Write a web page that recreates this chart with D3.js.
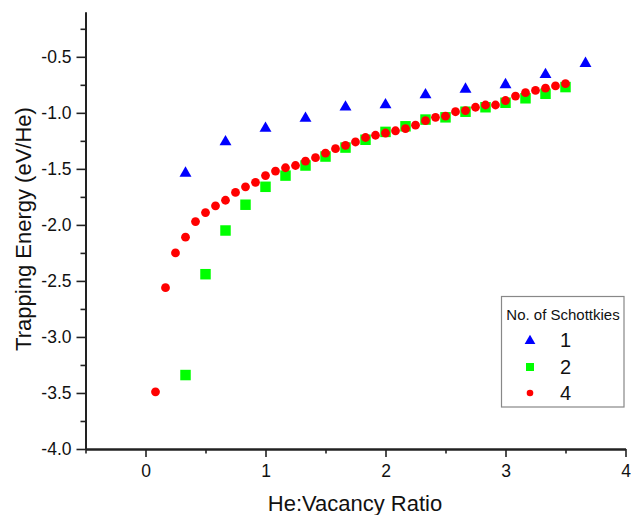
<!DOCTYPE html>
<html>
<head>
<meta charset="utf-8">
<script src="https://cdn.jsdelivr.net/npm/d3@7"></script>
<style>
  html, body { margin: 0; padding: 0; background: #fff; }
  svg { display: block; font-family: "Liberation Sans", Arial, sans-serif; }
</style>
</head>
<body>
<svg id="chart" width="631" height="515"></svg>
<script>
// ---- Data ----
const xTicksMajor = [0, 1, 2, 3, 4];
const xTicksMinor = [-0.5, 0.5, 1.5, 2.5, 3.5];
const yTicksMajor = [-4.0, -3.5, -3.0, -2.5, -2.0, -1.5, -1.0, -0.5];
const yTicksMinor = [-3.75, -3.25, -2.75, -2.25, -1.75, -1.25, -0.75, -0.25];

const series1X = [1/3, 2/3, 1, 4/3, 5/3, 2, 7/3, 8/3, 3, 10/3, 11/3];
const series1Y = [-1.53, -1.25, -1.13, -1.04, -0.94, -0.92, -0.83, -0.78, -0.74, -0.65, -0.55];

const series2X = [2/6, 3/6, 4/6, 5/6, 1, 7/6, 8/6, 9/6, 10/6, 11/6, 2, 13/6, 14/6, 15/6, 16/6, 17/6, 3, 19/6, 20/6, 21/6];
const series2Y = [-3.34, -2.44, -2.05, -1.82, -1.66, -1.56, -1.47, -1.39, -1.31, -1.24, -1.17, -1.12, -1.06, -1.04, -0.99, -0.95, -0.91, -0.87, -0.83, -0.77];

const series4X = d3.range(1, 43).map(i => i / 12);
const series4Y = [-3.49, -2.56, -2.25, -2.11, -1.97, -1.89, -1.83, -1.78, -1.71, -1.66,
                  -1.62, -1.56, -1.52, -1.49, -1.47, -1.43, -1.40, -1.36, -1.32, -1.29,
                  -1.26, -1.22, -1.20, -1.18, -1.16, -1.14, -1.11, -1.07, -1.04, -1.03,
                  -0.99, -0.98, -0.95, -0.93, -0.93, -0.89, -0.85, -0.82, -0.80, -0.78,
                  -0.76, -0.74];

const legendTitle = "No. of Schottkies";
const seriesNames = ["1", "2", "4"];
const xTitle = "He:Vacancy Ratio";
const yTitle = "Trapping Energy (eV/He)";

// ---- Layout ----
const svg = d3.select("#chart");
const plotL = 85.5, plotR = 625.5, plotT = 12, plotB = 449;
const x = d3.scaleLinear().domain([-0.5, 4]).range([plotL, plotR]);
const y = d3.scaleLinear().domain([-4, -0.1]).range([plotB, plotT]);
const axisColor = "#222";

// X axis
const gx = svg.append("g").attr("transform", `translate(0,${plotB})`);
gx.call(d3.axisBottom(x).tickValues(xTicksMajor).tickFormat(d3.format("d")).tickSize(8).tickSizeOuter(0));
const gxm = svg.append("g").attr("transform", `translate(0,${plotB})`);
gxm.call(d3.axisBottom(x).tickValues(xTicksMinor).tickFormat("").tickSize(4.5).tickSizeOuter(0));
[gx, gxm].forEach(g => {
  g.select(".domain").attr("stroke", axisColor).attr("stroke-width", 2);
  g.selectAll(".tick line").attr("stroke", axisColor).attr("stroke-width", 1.6);
});
gx.selectAll(".tick text").attr("font-size", 17.5).attr("fill", "#111").attr("dy", null).attr("y", 28);

// Y axis
const gy = svg.append("g").attr("transform", `translate(${plotL},0)`);
gy.call(d3.axisLeft(y).tickValues(yTicksMajor).tickFormat(d3.format(".1f")).tickSize(9).tickSizeOuter(0));
const gym = svg.append("g").attr("transform", `translate(${plotL},0)`);
gym.call(d3.axisLeft(y).tickValues(yTicksMinor).tickFormat("").tickSize(5).tickSizeOuter(0));
[gy, gym].forEach(g => {
  g.select(".domain").attr("stroke", axisColor).attr("stroke-width", 2);
  g.selectAll(".tick line").attr("stroke", axisColor).attr("stroke-width", 1.6);
});
gy.selectAll(".tick text").attr("font-size", 17.5).attr("fill", "#111").attr("x", -14)
  .text(d => d3.format(".1f")(d).replace("−", "-"));

// Titles
svg.append("text").attr("x", 355).attr("y", 511).attr("text-anchor", "middle")
  .attr("font-size", 22).attr("fill", "#111").text(xTitle);
svg.append("text").attr("transform", `translate(31,229) rotate(-90)`).attr("text-anchor", "middle")
  .attr("font-size", 22).attr("fill", "#111").text(yTitle);

// ---- Marks ----
const triSym = d3.symbol().type(d3.symbolTriangle).size(62);
const sqSym = d3.symbol().type(d3.symbolSquare).size(110);

svg.append("g").selectAll("path.s2").data(series2X.map((v, i) => [v, series2Y[i]])).join("path")
  .attr("class", "s2").attr("d", sqSym).attr("fill", "#00ff00")
  .attr("transform", d => `translate(${x(d[0])},${y(d[1])})`);

svg.append("g").selectAll("circle").data(series4X.map((v, i) => [v, series4Y[i]])).join("circle")
  .attr("cx", d => x(d[0])).attr("cy", d => y(d[1])).attr("r", 4.4).attr("fill", "#ff0000");

svg.append("g").selectAll("path.s1").data(series1X.map((v, i) => [v, series1Y[i]])).join("path")
  .attr("class", "s1").attr("d", triSym).attr("fill", "#0000ff")
  .attr("transform", d => `translate(${x(d[0])},${y(d[1]) + 1})`);

// ---- Legend ----
const lg = svg.append("g");
lg.append("rect").attr("x", 501.5).attr("y", 296.5).attr("width", 122.5).attr("height", 110.5)
  .attr("fill", "#fff").attr("stroke", "#888").attr("stroke-width", 1.2);
lg.append("text").attr("x", 563).attr("y", 320).attr("text-anchor", "middle")
  .attr("font-size", 15).attr("fill", "#111").text(legendTitle);
const legY = [340, 367, 393];
const legText = [346.5, 373.5, 400];
lg.append("path").attr("d", d3.symbol().type(d3.symbolTriangle).size(50)())
  .attr("fill", "#0000ff").attr("transform", `translate(530,${legY[0] + 1})`);
lg.append("path").attr("d", d3.symbol().type(d3.symbolSquare).size(64)())
  .attr("fill", "#00ff00").attr("transform", `translate(530,${legY[1]})`);
lg.append("circle").attr("cx", 530).attr("cy", legY[2]).attr("r", 3.3).attr("fill", "#ff0000");
seriesNames.forEach((n, i) => {
  lg.append("text").attr("x", 560).attr("y", legText[i]).attr("font-size", 20).attr("fill", "#111").text(n);
});
</script>
</body>
</html>
